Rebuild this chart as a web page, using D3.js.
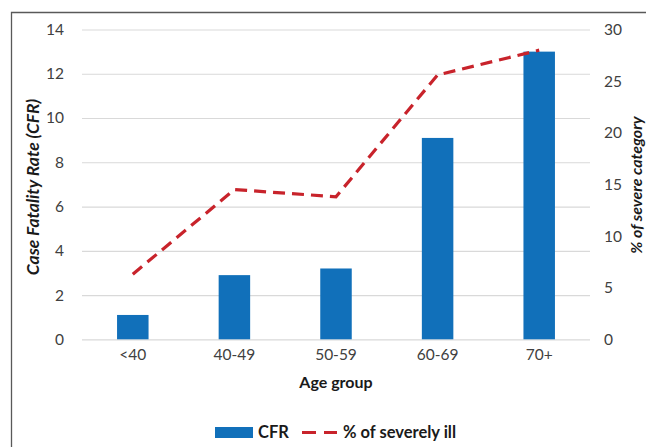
<!DOCTYPE html>
<html><head><meta charset="utf-8">
<script src="https://cdn.jsdelivr.net/npm/d3@7"></script>
<style>body{margin:0;background:#fff}svg{display:block}text{font-family:Lato,"Open Sans",sans-serif}</style>
</head><body>
<svg id="c" width="646" height="447"></svg>
<script>
const categories = ["<40","40-49","50-59","60-69","70+"];
const cfr = [1.1, 2.9, 3.2, 9.1, 13.0];
const severe = [6.3, 14.5, 13.8, 25.6, 28.0];
const leftTicks = [0,2,4,6,8,10,12,14];
const rightTicks = [0,5,10,15,20,25,30];

const svg = d3.select("#c");
const m = {l:82, r:590, t:29.5, b:339.3};
const x = d3.scaleBand().domain(categories).range([m.l, m.r]).paddingInner(0.69).paddingOuter(0.345);
const yL = d3.scaleLinear().domain([0,14]).range([m.b, m.t]);
const yR = d3.scaleLinear().domain([0,30]).range([m.b, m.t]);

// frame
svg.append("path").attr("d","M11.5,447 V12.5 H646").attr("fill","none").attr("stroke","#595959").attr("stroke-width",1.3);

// grid
const gl = d3.axisLeft(yL).tickValues(leftTicks).tickSize(-(m.r-m.l)).tickFormat("");
svg.append("g").attr("transform",`translate(${m.l},0)`).call(gl)
  .call(g=>g.select(".domain").remove())
  .call(g=>g.selectAll("line").attr("stroke","#d9d9d9").attr("stroke-width",1.2));

const tickStyle = g=>g.selectAll("text").attr("font-size",15.5).attr("fill","#404040").style("font-family","Lato");

const al = d3.axisLeft(yL).tickValues(leftTicks).tickSize(0).tickPadding(18);
svg.append("g").attr("transform",`translate(${m.l},0)`).call(al)
  .call(g=>g.select(".domain").remove()).call(tickStyle);

const ar = d3.axisRight(yR).tickValues(rightTicks).tickSize(0).tickPadding(14);
svg.append("g").attr("transform",`translate(${m.r},0)`).call(ar)
  .call(g=>g.select(".domain").remove()).call(tickStyle);

const ax = d3.axisBottom(x).tickSize(0).tickPadding(10);
svg.append("g").attr("transform",`translate(0,${m.b})`).call(ax)
  .call(g=>g.select(".domain").remove()).call(tickStyle);

// bars
svg.append("g").selectAll("rect").data(cfr).join("rect")
  .attr("x",(d,i)=>x(categories[i])).attr("width",x.bandwidth())
  .attr("y",d=>yL(d)).attr("height",d=>yL(0)-yL(d)).attr("fill","#1170ba");

// line
const line = d3.line().x((d,i)=>x(categories[i])+x.bandwidth()/2).y(d=>yR(d));
svg.append("path").datum(severe).attr("d",line).attr("fill","none")
  .attr("stroke","#c8232b").attr("stroke-width",3.2).attr("stroke-dasharray","12,7");

// axis titles
svg.append("text").attr("transform","translate(39,187) rotate(-90)").attr("text-anchor","middle")
  .attr("font-size",17.5).attr("font-weight","bold").attr("font-style","italic").attr("fill","#1a1a1a")
  .text("Case Fatality Rate (CFR)");
svg.append("text").attr("transform","translate(642,185) rotate(-90)").attr("text-anchor","middle")
  .attr("font-size",16).attr("font-weight","bold").attr("font-style","italic").attr("fill","#1a1a1a")
  .text("% of severe category");
svg.append("text").attr("x",(m.l+m.r)/2).attr("y",388).attr("text-anchor","middle")
  .attr("font-size",16).attr("font-weight","bold").attr("fill","#1a1a1a").text("Age group");

// legend
const lg = svg.append("g");
lg.append("rect").attr("x",215).attr("y",427).attr("width",38).attr("height",11).attr("fill","#1170ba");
lg.append("text").attr("x",258).attr("y",438).attr("font-size",16.5).attr("font-weight","bold").attr("fill","#1a1a1a").text("CFR");
lg.append("line").attr("x1",302).attr("x2",337).attr("y1",432.5).attr("y2",432.5)
  .attr("stroke","#c8232b").attr("stroke-width",3.2).attr("stroke-dasharray","14,8");
lg.append("text").attr("x",343).attr("y",438).attr("font-size",16.5).attr("font-weight","bold").attr("fill","#1a1a1a").text("% of severely ill");
</script>
</body></html>
